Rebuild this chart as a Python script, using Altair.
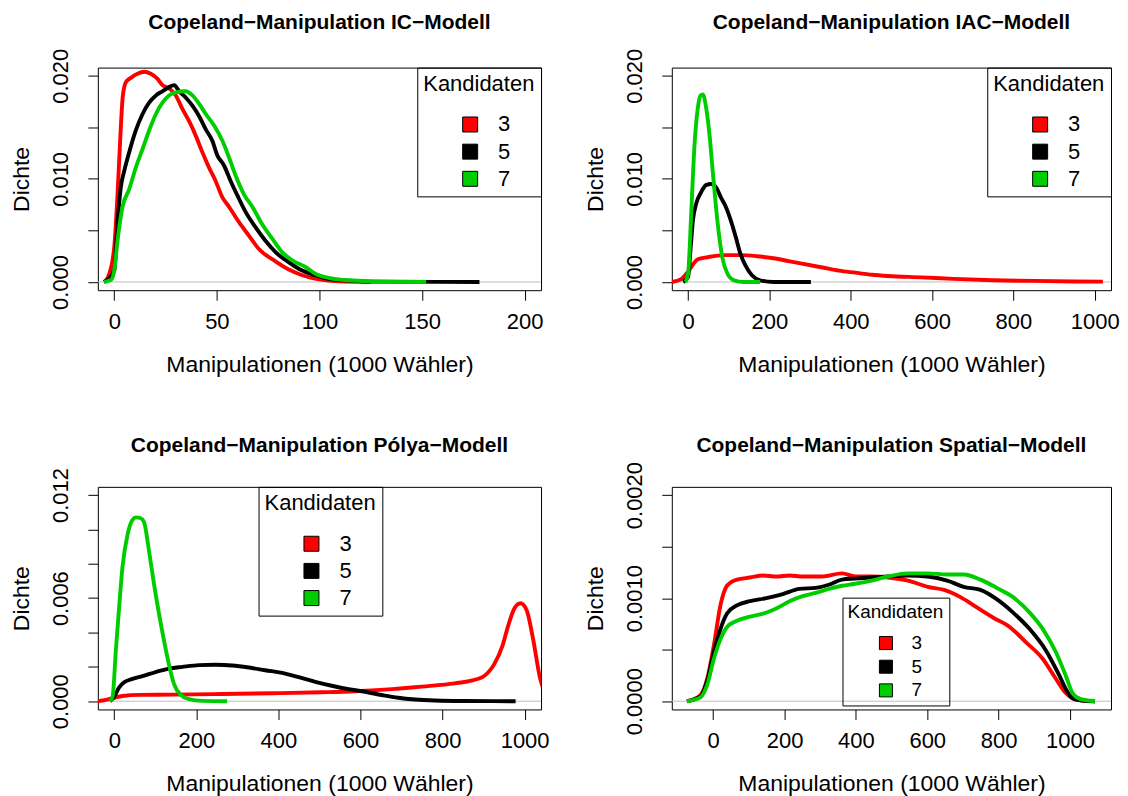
import altair as alt
import pandas as pd

FONT = "Liberation Sans"
series_keys = ["3", "5", "7"]
series_colors = ["#FF0000", "#000000", "#00CD00"]

# ---------------- IC-Modell ----------------
ic3_x = [-4.9, -2.4, 0, 1.6, 3.2, 4.1, 5.7, 8.1, 11.3, 14.6, 17.8, 21.1, 23.5, 26.7, 30.0, 33.2, 36.5, 39.7, 42.9, 46.2, 49.4, 52.7, 55.9, 60.8, 65.6, 70.5, 78.6, 85.1, 91.6, 99.7, 109.4, 125.0]
ic3_y = [0.0, 0.0008, 0.0034, 0.0085, 0.0150, 0.0179, 0.0194, 0.0198, 0.0202, 0.0204, 0.0202, 0.0197, 0.0191, 0.0188, 0.0181, 0.0168, 0.0156, 0.0142, 0.0126, 0.0111, 0.0098, 0.0082, 0.0073, 0.0058, 0.0045, 0.0032, 0.0020, 0.0012, 0.00065, 0.00026, 0.00006, 0.0]
ic5_x = [-4.9, 0, 1.6, 3.2, 4.9, 7.3, 10.5, 13.8, 17.0, 20.3, 23.5, 26.7, 29.2, 31.6, 34.8, 38.1, 41.3, 44.6, 47.8, 50.2, 53.5, 56.7, 60.0, 64.0, 68.9, 73.7, 78.6, 85.1, 91.6, 98.0, 104.5, 114.0, 130.0, 178.0]
ic5_y = [0.0, 0.0011, 0.0058, 0.0092, 0.0108, 0.0126, 0.0147, 0.0163, 0.0174, 0.0181, 0.0185, 0.0189, 0.0191, 0.0185, 0.0179, 0.0171, 0.0161, 0.0148, 0.0137, 0.0123, 0.0113, 0.0098, 0.0084, 0.0068, 0.0053, 0.0040, 0.0029, 0.0019, 0.0011, 0.00065, 0.0003, 0.00013, 0.00003, 0.0]
ic7_x = [-4.9, -1.6, 0, 1.6, 4.05, 7.3, 10.5, 13.8, 17.0, 20.3, 23.5, 26.7, 30.0, 34.8, 38.1, 41.3, 44.6, 48.6, 52.7, 55.9, 59.2, 63.2, 67.3, 72.1, 77.0, 81.8, 86.7, 93.2, 98.0, 104.5, 114.0, 125.6, 152.0]
ic7_y = [0.0, 0.0002, 0.0011, 0.0040, 0.0073, 0.0090, 0.0111, 0.0129, 0.0147, 0.0163, 0.0174, 0.0181, 0.0184, 0.0185, 0.0181, 0.0173, 0.0163, 0.0152, 0.0137, 0.0121, 0.0103, 0.0085, 0.0073, 0.0056, 0.0042, 0.0029, 0.0021, 0.00145, 0.0008, 0.0004, 0.00016, 0.00006, 0.0]

# ---------------- IAC-Modell ----------------
iac3_x = [-40, -16, 0, 12, 24, 48, 89, 129, 169, 210, 250, 290, 331, 371, 411, 452, 492, 573, 653, 750, 850, 950, 1020]
iac3_y = [0.0, 0.0003, 0.0010, 0.0017, 0.0022, 0.0024, 0.0026, 0.0026, 0.0025, 0.0023, 0.0020, 0.0017, 0.0014, 0.0011, 0.0009, 0.0007, 0.00058, 0.00045, 0.0003, 0.00017, 0.0001, 0.00005, 0.00003]
iac5_x = [-12, 0, 6.5, 12, 20, 32, 44, 56.5, 68.6, 80.6, 92.7, 104.8, 117, 129, 141, 157, 177, 210, 302]
iac5_y = [0.0, 0.0005, 0.0034, 0.0060, 0.0076, 0.0087, 0.0094, 0.0095, 0.0092, 0.0082, 0.0073, 0.0060, 0.0044, 0.0027, 0.0016, 0.00065, 0.00016, 0.0, 0.0]
iac7_x = [-6.5, 0, 8, 16, 24, 30.6, 36.3, 44.4, 52.4, 60.5, 68.6, 76.6, 84.7, 96.8, 113, 137, 177]
iac7_y = [0.0, 0.0008, 0.0069, 0.0134, 0.0169, 0.0181, 0.0182, 0.0169, 0.0144, 0.0108, 0.0073, 0.0044, 0.0023, 0.0008, 0.00016, 0.0, 0.0]

# ---------------- Pólya-Modell ----------------
pol3_x = [-40, -20, 0, 20, 61, 142, 263, 385, 506, 587, 668, 749, 830, 870, 903, 927, 947, 960, 975, 990, 1005, 1020, 1038, 1060, 1080]
pol3_y = [0.0, 0.00008, 0.0002, 0.0003, 0.00037, 0.00038, 0.00042, 0.00046, 0.00052, 0.00058, 0.00069, 0.00085, 0.00104, 0.0012, 0.0015, 0.0022, 0.0033, 0.0044, 0.0054, 0.0057, 0.0053, 0.0037, 0.0013, 0.0002, 0.0]
pol5_x = [-10.5, 0, 12, 24, 44.5, 68.8, 101, 133.6, 166, 206.5, 247, 287.4, 328, 368, 409, 449, 490, 530, 571, 611, 652, 692, 733, 781, 850, 978]
pol5_y = [0.0, 0.00027, 0.0008, 0.0011, 0.0013, 0.00146, 0.0017, 0.0019, 0.0020, 0.0021, 0.00212, 0.00208, 0.00196, 0.0018, 0.00165, 0.0014, 0.00113, 0.0009, 0.0007, 0.00055, 0.00036, 0.0002, 0.0001, 0.00004, 0.00001, 0.0]
pol7_x = [-10.5, -4, 4, 12, 20, 32.4, 44.5, 52.6, 64.8, 72.9, 85, 97, 109, 121.5, 133.6, 145.7, 162, 182, 214.6, 275]
pol7_y = [0.0, 0.00027, 0.0030, 0.0055, 0.0078, 0.0097, 0.01056, 0.0107, 0.01065, 0.0104, 0.0087, 0.0068, 0.0051, 0.0035, 0.0021, 0.0010, 0.00037, 0.00012, 0.00002, 0.0]

# ---------------- Spatial-Modell ----------------
spa3_x = [-73.7, -53.5, -35, -16.6, 1.8, 20.3, 38.7, 66.4, 103, 140, 177, 214, 251, 306, 361, 398, 444, 490, 546, 601, 647, 693, 739, 785, 831, 877, 924, 960, 988, 1007, 1040, 1070]
spa3_y = [0.0, 0.00002, 0.00006, 0.00022, 0.00054, 0.00093, 0.00112, 0.00118, 0.0012, 0.00122, 0.00121, 0.00122, 0.00121, 0.00121, 0.00124, 0.00121, 0.00121, 0.0012, 0.00117, 0.00111, 0.00108, 0.00101, 0.00091, 0.00081, 0.00072, 0.00057, 0.00041, 0.00022, 0.00008, 0.00003, 0.000005, 0.0]
spa5_x = [-73.7, -35, -16.6, 1.8, 20.3, 38.7, 66.4, 103, 149, 195, 241.5, 287.6, 324, 361, 398, 444, 490, 546, 601, 656, 702, 749, 794.5, 840.6, 887, 933, 970, 993, 1007, 1040, 1070]
spa5_y = [0.0, 0.00005, 0.0002, 0.00048, 0.0007, 0.00085, 0.00093, 0.00097, 0.001, 0.00104, 0.00109, 0.0011, 0.00113, 0.00118, 0.00119, 0.0012, 0.00121, 0.00122, 0.00121, 0.00117, 0.00111, 0.00108, 0.00099, 0.00086, 0.0007, 0.00049, 0.00025, 0.00009, 0.00003, 0.000005, 0.0]
spa7_x = [-73.7, -35, -16.6, 1.8, 20.3, 38.7, 66.4, 103, 140, 177, 214, 250.7, 287.6, 324, 361, 398, 444, 490, 546, 601, 656, 702, 749, 794.5, 840.6, 887, 924, 960, 988, 1007, 1030, 1070]
spa7_y = [0.0, 0.00004, 0.00016, 0.00041, 0.0006, 0.00072, 0.00078, 0.00082, 0.00085, 0.0009, 0.00097, 0.00102, 0.00105, 0.00109, 0.00112, 0.00114, 0.00117, 0.00121, 0.00124, 0.00124, 0.00123, 0.00123, 0.00118, 0.0011, 0.00101, 0.00086, 0.0007, 0.00048, 0.00025, 0.00008, 0.00002, 0.0]

xlabel = "Manipulationen (1000 Wähler)"
ylabel = "Dichte"
x_ticks_ic = [0, 50, 100, 150, 200]
x_ticks_k = [0, 200, 400, 600, 800, 1000]

W_LEFT, W_RIGHT, H = 444, 440, 223
AX = 23
TICK_FS = 22


def legend_for(size, **pos):
    big = size == "big"
    fs = 22 if big else 19
    return alt.Legend(
        title="Kandidaten",
        padding=6 if big else 5,
        strokeColor="black",
        titleFont=FONT, titleFontSize=fs, titleFontWeight="normal", titleColor="black",
        labelFont=FONT, labelFontSize=fs, labelColor="black",
        symbolType="square", symbolSize=225 if big else 170,
        symbolStrokeColor="black", symbolStrokeWidth=1, symbolOpacity=1,
        symbolOffset=36 if big else 29,
        labelOffset=17 if big else 16,
        rowPadding=5.2 if big else 3.7,
        titlePadding=18 if big else 12,
        **pos,
    )


def panel(series, title, xdom, xvals, ydom, yvals, ystep, yfmt, legend, title_dy, width):
    rows = []
    for key, xs, ys in series:
        for a, b in zip(xs, ys):
            rows.append({"x": a, "y": b, "k": key})
    df = pd.DataFrame(rows)
    xscale = alt.Scale(domain=xdom, nice=False, zero=False)
    yscale = alt.Scale(domain=ydom, nice=False, zero=False)
    xaxis = alt.Axis(values=xvals, format="d", labelFont=FONT, labelFontSize=TICK_FS, labelColor="black",
                     titleFont=FONT, titleFontSize=AX, titleFontWeight="normal", titleColor="black",
                     tickColor="black", tickSize=10, tickWidth=1, domain=False, grid=False,
                     labelPadding=11, titlePadding=21, labelFlush=False, labelOverlap=False)
    yaxis = alt.Axis(values=yvals, format=yfmt,
                     labelExpr=f"abs(datum.value/{ystep} - round(datum.value/{ystep})) < 0.001 ? datum.label : ''",
                     labelFont=FONT, labelFontSize=TICK_FS, labelColor="black", labelAngle=270,
                     labelAlign="center", labelBaseline="bottom",
                     titleFont=FONT, titleFontSize=AX, titleFontWeight="normal", titleColor="black",
                     tickColor="black", tickSize=10, tickWidth=1, domain=False, grid=False,
                     labelPadding=15, titlePadding=16, labelFlush=False, labelOverlap=False)
    # stroke scale: data-driven domain (sorted 3, 5, 7); fill scale: explicit domain (for the legend)
    stroke_scale = alt.Scale(range=series_colors)
    fill_scale = alt.Scale(domain=series_keys, range=series_colors)
    zero = alt.Chart(pd.DataFrame({"y": [0.0]})).mark_rule(color="#BEBEBE", strokeWidth=1).encode(
        y=alt.Y("y:Q", scale=yscale, axis=yaxis, title=ylabel))
    lines = alt.Chart(df).mark_line(strokeWidth=3.9, interpolate="monotone", clip=True).encode(
        x=alt.X("x:Q", scale=xscale, axis=xaxis, title=xlabel),
        y=alt.Y("y:Q", scale=yscale, axis=yaxis, title=ylabel),
        stroke=alt.Stroke("k:N", scale=stroke_scale, sort="ascending", legend=None),
    )
    leg = alt.Chart(df).transform_filter("datum.y < -1").mark_square(
        filled=True, stroke="black", strokeWidth=1).encode(
        fill=alt.Fill("k:N", scale=fill_scale, legend=legend))
    return alt.layer(zero, lines, leg).properties(
        width=width, height=H,
        title=alt.Title(title, font=FONT, fontSize=21, fontWeight="bold", color="black",
                        anchor="middle", frame="group", offset=0, dy=title_dy, baseline="alphabetic"))


p1 = panel([("3", ic3_x, ic3_y), ("5", ic5_x, ic5_y), ("7", ic7_x, ic7_y)],
           "Copeland−Manipulation IC−Modell", [-8, 208], x_ticks_ic,
           [-0.0008, 0.0208], [0, 0.005, 0.01, 0.015, 0.02], 0.01, ".3f",
           legend_for("big", orient="top-right", offset=0), 2, W_LEFT)
p2 = panel([("3", iac3_x, iac3_y), ("5", iac5_x, iac5_y), ("7", iac7_x, iac7_y)],
           "Copeland−Manipulation IAC−Modell", [-40, 1040], x_ticks_k,
           [-0.0008, 0.0208], [0, 0.005, 0.01, 0.015, 0.02], 0.01, ".3f",
           legend_for("big", orient="top-right", offset=0), 2, W_RIGHT)
p3 = panel([("3", pol3_x, pol3_y), ("5", pol5_x, pol5_y), ("7", pol7_x, pol7_y)],
           "Copeland−Manipulation Pólya−Modell", [-40, 1040], x_ticks_k,
           [-0.00048, 0.01248], [0, 0.002, 0.004, 0.006, 0.008, 0.01, 0.012], 0.006, ".3f",
           legend_for("big", orient="none", legendX=161, legendY=0), 5.8, W_LEFT)
p4 = panel([("3", spa3_x, spa3_y), ("5", spa5_x, spa5_y), ("7", spa7_x, spa7_y)],
           "Copeland−Manipulation Spatial−Modell", [-116, 1115], x_ticks_k,
           [-0.00008, 0.00208], [0, 0.0005, 0.001, 0.0015, 0.002], 0.001, ".4f",
           legend_for("small", orient="none", legendX=171, legendY=111), 11.8, W_RIGHT)

chart = alt.concat(p1, p2, p3, p4, columns=2, spacing={"row": 197, "column": 131}, bounds="flush").resolve_scale(
    fill="independent", stroke="independent", x="independent", y="independent").resolve_legend(
    fill="independent").configure_view(
    stroke="black", strokeWidth=1).properties(padding={"left": 2, "top": 3, "right": 0, "bottom": 0}, background="white")

chart.save("out.html", embed_options={"renderer": "svg", "actions": False})
